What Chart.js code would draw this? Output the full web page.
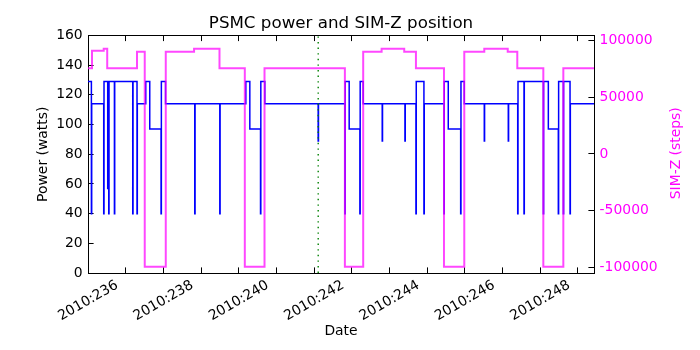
<!DOCTYPE html>
<html>
<head>
<meta charset="utf-8">
<title>PSMC power and SIM-Z position</title>
<script src="https://cdn.jsdelivr.net/npm/chart.js@4.4.1/dist/chart.umd.min.js"></script>
<style>
    body { margin: 0; background: #fff; }
    #grafico { display: block; }
</style>
</head>
<body>
<canvas id="grafico" width="700" height="350"></canvas>
<script>
// PSMC power, step changes (day of year 2010, watts)
var powerTimes = [
    236.000, 236.090, 236.098, 236.417, 236.425, 236.523, 236.531, 236.550, 236.558,
    236.701, 236.709, 237.187, 237.195, 237.301, 237.309, 237.533, 237.639, 237.939,
    237.947, 238.058, 238.834, 238.842, 239.498, 239.506, 240.189, 240.295, 240.579,
    240.587, 240.693, 242.109, 242.117, 242.818, 242.826, 242.932, 243.216, 243.224,
    243.304, 243.809, 243.817, 244.412, 244.420, 244.704, 244.712, 244.916, 244.924,
    245.448, 245.456, 245.562, 245.891, 245.899, 245.987, 246.518, 246.526, 247.155,
    247.163, 247.405, 247.413, 247.572, 247.580, 248.085, 248.093, 248.218, 248.483,
    248.491, 248.616, 248.624, 248.794, 248.802, 249.430
];
var powerWatts = [
    129, 40, 114, 40, 129, 57, 119, 40, 129,
    40, 129, 40, 129, 40, 114, 129, 97, 40,
    129, 114, 40, 114, 40, 114, 129, 97, 40,
    129, 114, 89, 114, 40, 129, 97, 40, 129,
    114, 89, 114, 89, 114, 40, 129, 40, 114,
    40, 129, 97, 40, 129, 114, 89, 114, 89,
    114, 40, 129, 40, 129, 40, 129, 97, 40,
    129, 40, 129, 40, 114, 114
];

// SIM-Z translation table position (steps)
var simzTimes = [
    236.000, 236.106, 236.417, 236.510, 237.300, 237.506, 238.064, 238.815,
    239.490, 240.162, 240.685, 242.818, 243.304, 243.793, 244.393, 244.704,
    245.448, 245.987, 246.518, 247.140, 247.394, 248.085, 248.616, 249.430
];
var simzSteps = [
    75624, 91100, 92904, 75624, 90200, -99616, 90200, 92904,
    75624, -99616, 75624, -99616, 90200, 92904, 90200, 75624,
    -99616, 90200, 92904, 90200, 75624, -99616, 75624, 75624
];

// marker time (dotted line)
var markTime = [242.11];

// labelled days on the date axis, and the SIM-Z axis ticks
var labelDays = [236, 238, 240, 242, 244, 246, 248];
var simzTicks = [-100000, -50000, 0, 50000, 100000];

var diaInicio = 236.0;
var diaFin = 249.43;

function puntos(xs, ys) {
    var out = [];
    for (var i = 0; i < xs.length; i++) {
        out.push({x: xs[i], y: ys[i]});
    }
    return out;
}

function lineaMarca() {
    var out = [];
    for (var i = 0; i < markTime.length; i++) {
        out.push({x: markTime[i], y: 0});
        out.push({x: markTime[i], y: 160});
    }
    return out;
}

Chart.defaults.font.family = '"DejaVu Sans", sans-serif';
Chart.defaults.font.size = 13.9;
Chart.defaults.color = '#000';

// main title and the right axis label (which reads bottom to top)
var titulos = {
    id: 'titulos',
    afterDraw: function (chart) {
        var ctx = chart.ctx;
        var area = chart.chartArea;
        ctx.save();
        ctx.fillStyle = '#000';
        ctx.font = '16.7px "DejaVu Sans"';
        ctx.textAlign = 'center';
        ctx.textBaseline = 'alphabetic';
        ctx.fillText('PSMC power and SIM-Z position', (area.left + area.right) / 2, 28);
        ctx.translate(680, (area.top + area.bottom) / 2 - 1);
        ctx.rotate(-Math.PI / 2);
        ctx.fillStyle = '#ff00ff';
        ctx.font = '13.9px "DejaVu Sans"';
        ctx.fillText('SIM-Z (steps)', 0, 0);
        ctx.restore();
    }
};

function ejeGrid() {
    return {
        drawOnChartArea: false,
        drawTicks: true,
        tickLength: -5.6,
        tickColor: '#000',
        tickWidth: 1,
        color: '#000'
    };
}

function grafico() {
    var config = {
        type: 'line',
        data: {
            datasets: [{
                    label: 'SIM-Z',
                    data: puntos(simzTimes, simzSteps),
                    yAxisID: 'y2',
                    borderColor: 'rgba(255, 0, 255, 0.72)',
                    borderWidth: 2,
                    stepped: 'before',
                    pointRadius: 0,
                    fill: false
                }, {
                    label: 'marca',
                    data: lineaMarca(),
                    yAxisID: 'y',
                    borderColor: '#008000',
                    borderWidth: 1.4,
                    borderDash: [1.4, 4.2],
                    pointRadius: 0,
                    fill: false
                }, {
                    label: 'Power',
                    data: puntos(powerTimes, powerWatts),
                    yAxisID: 'y',
                    borderColor: '#0000ff',
                    borderWidth: 1.5,
                    stepped: 'before',
                    pointRadius: 0,
                    fill: false
                }]
        },
        options: {
            responsive: false,
            animation: false,
            devicePixelRatio: 1,
            layout: {padding: {top: 35.5, left: 0, right: 0, bottom: 0}},
            plugins: {
                legend: {display: false},
                tooltip: {enabled: false},
                title: {display: false}
            },
            scales: {
                x: {
                    type: 'linear',
                    position: 'bottom',
                    min: diaInicio,
                    max: diaFin,
                    grid: ejeGrid(),
                    border: {display: true, color: '#000', width: 1},
                    ticks: {
                        stepSize: 1,
                        autoSkip: false,
                        includeBounds: false,
                        minRotation: 30,
                        maxRotation: 30,
                        labelOffset: 29,
                        padding: 9.6,
                        callback: function (v) {
                            return labelDays.indexOf(v) >= 0 ? '2010:' + v : '';
                        }
                    },
                    title: {display: true, text: 'Date', padding: {top: 0, bottom: 10.7}},
                    afterFit: function (s) { s.height = 77; }
                },
                xTop: {
                    type: 'linear',
                    position: 'top',
                    min: diaInicio,
                    max: diaFin,
                    grid: ejeGrid(),
                    border: {display: true, color: '#000', width: 1},
                    ticks: {stepSize: 1, includeBounds: false, callback: function () { return ''; }},
                    afterFit: function (s) { s.height = 0; }
                },
                y: {
                    type: 'linear',
                    position: 'left',
                    min: 0,
                    max: 160,
                    grid: ejeGrid(),
                    border: {display: true, color: '#000', width: 1},
                    ticks: {stepSize: 20, padding: 10.9},
                    title: {display: true, text: 'Power (watts)', padding: {top: 34.7, bottom: 0}},
                    afterFit: function (s) { s.width = 88; }
                },
                y2: {
                    type: 'linear',
                    position: 'right',
                    min: -105100,
                    max: 104600,
                    grid: ejeGrid(),
                    border: {display: true, color: '#000', width: 1},
                    ticks: {
                        padding: 11.2,
                        color: '#ff00ff',
                        callback: function (v) { return String(v); }
                    },
                    afterBuildTicks: function (s) {
                        s.ticks = simzTicks.map(function (v) { return {value: v}; });
                    },
                    afterFit: function (s) { s.width = 106; }
                }
            }
        },
        plugins: [titulos]
    };
    var ctx = document.getElementById('grafico').getContext('2d');
    window.miGrafico = new Chart(ctx, config);
}

grafico();
</script>
</body>
</html>
